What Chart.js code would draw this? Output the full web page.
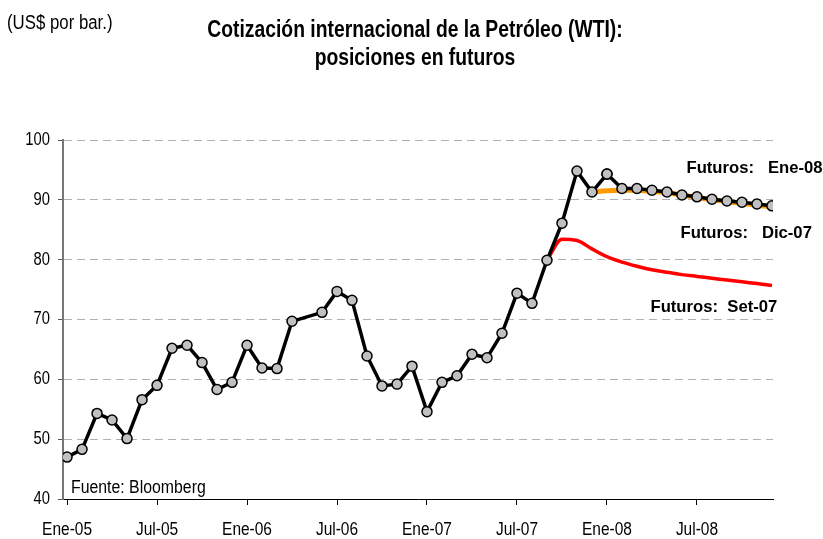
<!DOCTYPE html>
<html>
<head>
<meta charset="utf-8">
<script src="https://cdn.jsdelivr.net/npm/chart.js"></script>
<style>
  body { margin: 0; background: #fff; }
</style>
</head>
<body>
<canvas id="myChart" width="823" height="539"></canvas>
<script>
// months from Ene-05 (index 0) to Dic-08 (index 47)
const tickLabels = ['Ene-05', 'Jul-05', 'Ene-06', 'Jul-06', 'Ene-07', 'Jul-07', 'Ene-08', 'Jul-08'];
const tickEvery = 6;
const yTicks = [40, 50, 60, 70, 80, 90, 100];

// WTI spot, Ene-05 .. Ene-08 (May-06 missing)
const spot = [47.0, 48.3, 54.3, 53.2, 50.1, 56.6, 59.0, 65.2, 65.7, 62.8, 58.3, 59.5,
              65.7, 61.9, 61.8, 69.7, null, 71.2, 74.7, 73.2, 63.9, 58.9, 59.2, 62.2,
              54.6, 59.5, 60.6, 64.2, 63.6, 67.7, 74.4, 72.7, 79.9, 86.1, 94.8, 91.3,
              94.3];
const spotStart = 0;

// futures curves (first month index + values)
const futEne08Start = 36;
const futEne08 = [94.3, 91.9, 91.9, 91.6, 91.3, 90.8, 90.5, 90.1, 89.8, 89.6, 89.3, 89.0];
const futDic07Start = 35;
const futDic07 = [91.3, 91.5, 91.6, 91.6, 91.4, 91.2, 90.8, 90.4, 90.0, 89.7, 89.4, 89.1, 88.8];
const futSet07Start = 32;
const futSet07 = [79.9, 83.4, 83.2, 81.8, 80.5, 79.6, 78.9, 78.3, 77.9, 77.5, 77.2, 76.9,
                  76.6, 76.3, 76.0, 75.7];

// curve labels: [text, month index, value]
const curveLabels = [
  ['Futuros:   Ene-08', 41.3, 95.3],
  ['Futuros:   Dic-07', 40.9, 84.4],
  ['Futuros:  Set-07', 38.9, 72.1]
];

const FONT = '"Liberation Sans", Arial, sans-serif';

function toPoints(start, arr) {
  return arr.map((v, i) => ({ x: start + i, y: v }));
}

// narrow-font look: squeeze text horizontally
function squeezed(c, text, x, y, sx, align) {
  c.save();
  c.translate(x, y);
  c.scale(sx, 1);
  c.textAlign = align;
  c.fillText(text, 0, 0);
  c.restore();
}

const textPlugin = {
  id: 'texts',
  afterDraw(chart) {
    const c = chart.ctx;
    const xs = chart.scales.x, ys = chart.scales.y;
    c.save();
    c.fillStyle = '#000';
    c.textBaseline = 'alphabetic';

    c.font = '20px ' + FONT;
    squeezed(c, '(US$ por bar.)', 7, 29, 0.84, 'left');

    c.font = 'bold 23px ' + FONT;
    squeezed(c, 'Cotización internacional de la Petróleo (WTI):', 415, 37, 0.84, 'center');
    squeezed(c, 'posiciones en futuros', 415, 65, 0.84, 'center');

    c.font = '18px ' + FONT;
    squeezed(c, 'Fuente: Bloomberg', 71, 493, 0.88, 'left');

    // axis tick labels
    c.textBaseline = 'middle';
    yTicks.forEach(v => squeezed(c, String(v), 50, ys.getPixelForValue(v), 0.82, 'right'));
    tickLabels.forEach((t, i) =>
      squeezed(c, t, xs.getPixelForValue(i * tickEvery), 530, 0.86, 'center'));

    c.font = 'bold 17px ' + FONT;
    curveLabels.forEach(([t, m, v]) =>
      squeezed(c, t, xs.getPixelForValue(m), ys.getPixelForValue(v), 0.98, 'left'));
    c.restore();
  }
};

const blackLine = {
  borderColor: '#000',
  borderWidth: 3.5,
  pointRadius: 5,
  pointBackgroundColor: '#c0c0c0',
  pointBorderColor: '#000',
  pointBorderWidth: 1.5,
  tension: 0,
  spanGaps: true
};

new Chart(document.getElementById('myChart').getContext('2d'), {
  type: 'line',
  data: {
    datasets: [
      Object.assign({ label: 'WTI', data: toPoints(spotStart, spot) }, blackLine),
      Object.assign({ label: 'Futuros Ene-08', data: toPoints(futEne08Start, futEne08) }, blackLine),
      {
        label: 'Futuros Dic-07',
        data: toPoints(futDic07Start, futDic07),
        borderColor: '#ff9900',
        borderWidth: 5,
        pointRadius: 0,
        tension: 0.3
      },
      {
        label: 'Futuros Set-07',
        data: toPoints(futSet07Start, futSet07),
        borderColor: '#ff0000',
        borderWidth: 3.5,
        pointRadius: 0,
        cubicInterpolationMode: 'monotone'
      }
    ]
  },
  options: {
    responsive: false,
    animation: false,
    layout: { padding: { left: 0, right: 50, top: 140, bottom: 0 } },
    plugins: {
      legend: { display: false },
      tooltip: { enabled: false }
    },
    scales: {
      x: {
        type: 'linear',
        min: -0.27,
        max: 47.07,
        afterBuildTicks: s => {
          s.ticks = tickLabels.map((_, i) => ({ value: i * tickEvery }));
        },
        afterFit: s => { s.height = 40; },
        ticks: { display: false },
        grid: {
          drawOnChartArea: false,
          tickLength: 6,
          tickColor: '#000'
        },
        border: { color: '#000', width: 1 }
      },
      y: {
        min: 40,
        max: 100,
        afterBuildTicks: s => {
          s.ticks = yTicks.map(v => ({ value: v }));
        },
        afterFit: s => { s.width = 63; },
        ticks: { display: false },
        grid: {
          color: ctx => ctx.tick && ctx.tick.value === 40 ? 'rgba(0,0,0,0)' : '#b0b0b0',
          tickColor: '#555',
          tickLength: 5,
          tickBorderDash: []
        },
        border: { color: '#777', width: 2, dash: [8, 5] }
      }
    }
  },
  plugins: [textPlugin]
});
</script>
</body>
</html>
